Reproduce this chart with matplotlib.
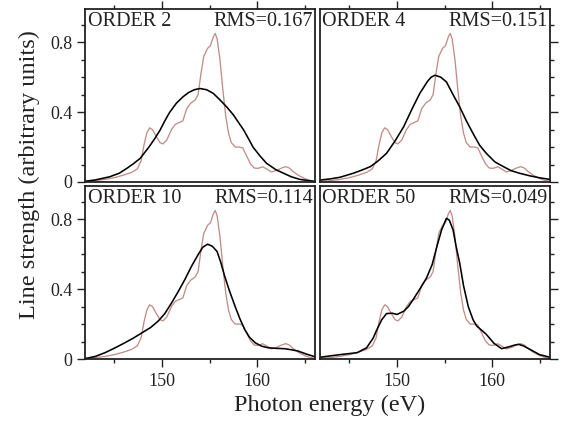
import numpy as np
import matplotlib.pyplot as plt
from matplotlib.ticker import MultipleLocator

# measured spectrum (same in all panels)
e_exp = [142.0, 143.0, 144.0, 145.0, 146.0, 146.8, 147.4, 147.8, 148.1, 148.4,
         148.7, 149.0, 149.4, 149.8, 150.1, 150.5, 151.0, 151.4, 151.8, 152.2,
         152.6, 153.0, 153.5, 153.8, 154.1, 154.4, 154.8, 155.1, 155.4, 155.6,
         155.8, 156.1, 156.4, 156.7, 157.0, 157.3, 157.7, 158.1, 158.5, 158.9,
         159.3, 159.7, 160.1, 160.6, 161.0, 161.5, 162.0, 162.5, 163.0, 163.4,
         163.8, 164.3, 165.0, 165.5, 166.0]
s_exp = [0.004, 0.008, 0.015, 0.025, 0.040, 0.055, 0.075, 0.12, 0.21, 0.28,
         0.31, 0.30, 0.26, 0.225, 0.218, 0.24, 0.30, 0.33, 0.34, 0.35,
         0.42, 0.45, 0.47, 0.50, 0.62, 0.72, 0.765, 0.78, 0.83, 0.85,
         0.82, 0.70, 0.53, 0.38, 0.28, 0.225, 0.20, 0.20, 0.195, 0.15,
         0.105, 0.08, 0.078, 0.087, 0.075, 0.058, 0.065, 0.078, 0.088, 0.08,
         0.06, 0.04, 0.02, 0.01, 0.005]

# fits
e_o2 = [141.9, 143.0, 144.5, 145.5, 146.3, 147.0, 147.7, 148.6, 149.2, 149.8,
        150.3, 150.8, 151.5, 152.2, 152.8, 153.4, 154.0, 154.7, 155.4, 156.1,
        156.8, 157.5, 158.0, 158.6, 159.1, 159.6, 160.3, 161.0, 162.0, 162.8,
        163.6, 164.5, 166.1]
s_o2 = [0.004, 0.012, 0.03, 0.05, 0.078, 0.105, 0.135, 0.198, 0.245, 0.297,
        0.35, 0.398, 0.45, 0.487, 0.512, 0.528, 0.535, 0.528, 0.507, 0.47,
        0.43, 0.385, 0.345, 0.297, 0.248, 0.198, 0.15, 0.107, 0.07, 0.05,
        0.03, 0.015, 0.003]

e_o4 = [141.9, 143.0, 144.0, 145.4, 146.3, 147.2, 148.0, 148.9, 149.8, 150.7,
        151.6, 152.4, 153.2, 153.6, 154.0, 154.6, 155.2, 155.9, 156.6, 157.3,
        158.0, 158.7, 159.4, 160.3, 161.2, 162.0, 162.9, 164.0, 165.0, 166.1]
s_o4 = [0.011, 0.018, 0.027, 0.05, 0.068, 0.088, 0.12, 0.164, 0.235, 0.316,
        0.42, 0.507, 0.575, 0.600, 0.611, 0.60, 0.573, 0.50, 0.43, 0.35,
        0.278, 0.21, 0.164, 0.115, 0.088, 0.065, 0.05, 0.035, 0.024, 0.015]

e_o10 = [141.9, 143.0, 144.0, 145.0, 146.1, 147.0, 147.9, 148.8, 149.6, 150.3,
         151.0, 151.7, 152.4, 153.1, 153.8, 154.3, 154.8, 155.3, 155.8, 156.2,
         156.6, 157.1, 157.7, 158.2, 158.7, 159.2, 159.8, 160.5, 161.2, 162.0,
         162.9, 163.6, 164.3, 165.2, 166.1]
s_o10 = [0.002, 0.015, 0.036, 0.062, 0.093, 0.12, 0.15, 0.18, 0.217, 0.26,
         0.32, 0.385, 0.454, 0.53, 0.597, 0.64, 0.657, 0.645, 0.615, 0.55,
         0.473, 0.39, 0.30, 0.23, 0.169, 0.125, 0.093, 0.073, 0.064, 0.061,
         0.059, 0.053, 0.046, 0.028, 0.013]

e_o50 = [141.9, 144.0, 145.8, 146.8, 147.5, 147.9, 148.4, 148.9, 149.5, 150.0,
         150.7, 151.2, 151.7, 152.4, 153.1, 153.7, 154.2, 154.7, 155.2, 155.5,
         155.9, 156.2, 156.6, 157.0, 157.5, 158.0, 158.4, 158.9, 159.4, 160.2,
         161.0, 161.8, 162.4, 162.8, 163.3, 164.0, 165.0, 166.1]
s_o50 = [0.01, 0.025, 0.036, 0.064, 0.12, 0.17, 0.225, 0.26, 0.262, 0.255,
         0.273, 0.30, 0.34, 0.40, 0.463, 0.54, 0.644, 0.74, 0.805, 0.795,
         0.739, 0.65, 0.549, 0.42, 0.30, 0.225, 0.188, 0.165, 0.141, 0.09,
         0.059, 0.07, 0.08, 0.084, 0.075, 0.055, 0.025, 0.01]

orders = ['ORDER 2', 'ORDER 4', 'ORDER 10', 'ORDER 50']
rms = ['RMS=0.167', 'RMS=0.151', 'RMS=0.114', 'RMS=0.049']
fits = [(e_o2, s_o2), (e_o4, s_o4), (e_o10, s_o10), (e_o50, s_o50)]

plt.rcParams['font.family'] = ['Liberation Serif', 'DejaVu Serif']

W, H = 561, 422
fig = plt.figure(figsize=(W / 100, H / 100), dpi=100)

# panel boxes in pixels: (left, top, right, bottom)
boxes = [(85, 9, 315, 182), (320, 9, 550, 182),
         (85, 186, 315, 359), (320, 186, 550, 359)]

frame_col = '#222222'
for i, (l, t, r, b) in enumerate(boxes):
    ax = fig.add_axes([l / W, 1 - b / H, (r - l) / W, (b - t) / H])
    ax.plot(e_exp, s_exp, color='#c08e8b', lw=0.95, solid_joinstyle='round')
    ax.plot(fits[i][0], fits[i][1], color='black', lw=1.15, solid_joinstyle='round')
    ax.set_xlim(141.9, 166.1)
    ax.set_ylim(0, 0.99)
    for sp in ax.spines.values():
        sp.set_color(frame_col)
        sp.set_linewidth(1.3)

    ax.xaxis.set_major_locator(MultipleLocator(10))
    ax.xaxis.set_minor_locator(MultipleLocator(5))
    ax.yaxis.set_major_locator(MultipleLocator(0.4))
    ax.yaxis.set_minor_locator(MultipleLocator(0.1))
    ax.tick_params(which='both', direction='out', color=frame_col, width=1.0,
                   labelsize=13, labelcolor='#222222')
    ax.tick_params(which='major', length=6)
    ax.tick_params(which='minor', length=3)

    top_row = i < 2
    left_col = i % 2 == 0
    ax.tick_params(axis='x', which='both', top=top_row, bottom=not top_row,
                   labeltop=False, labelbottom=not top_row, pad=4)
    ax.tick_params(axis='y', which='both', left=left_col, right=not left_col,
                   labelleft=left_col, labelright=False, pad=3)
    if left_col:
        ax.set_yticks([0, 0.4, 0.8])
        ax.set_yticklabels(['0', '0.4', '0.8'])
    if not top_row:
        ax.set_xticks([150, 160])
        ax.set_xticklabels(['150', '160'])

    ax.text(2.5 / 230, 1 - 17 / 173, orders[i], transform=ax.transAxes,
            ha='left', va='baseline', fontsize=14.5, color='#222222')
    ax.text(1 - 2 / 230, 1 - 17 / 173, rms[i], transform=ax.transAxes,
            ha='right', va='baseline', fontsize=14.5, color='#222222')

fig.text(330 / W, 1 - 411 / H, 'Photon energy (eV)', ha='center',
         va='baseline', fontsize=17.5, color='#222222')
fig.text(35 / W, 1 - 175 / H, 'Line strength (arbitrary units)', ha='center',
         va='baseline', rotation=90, rotation_mode='anchor', fontsize=17.5,
         color='#222222')

fig.savefig('out.png', dpi=100)
